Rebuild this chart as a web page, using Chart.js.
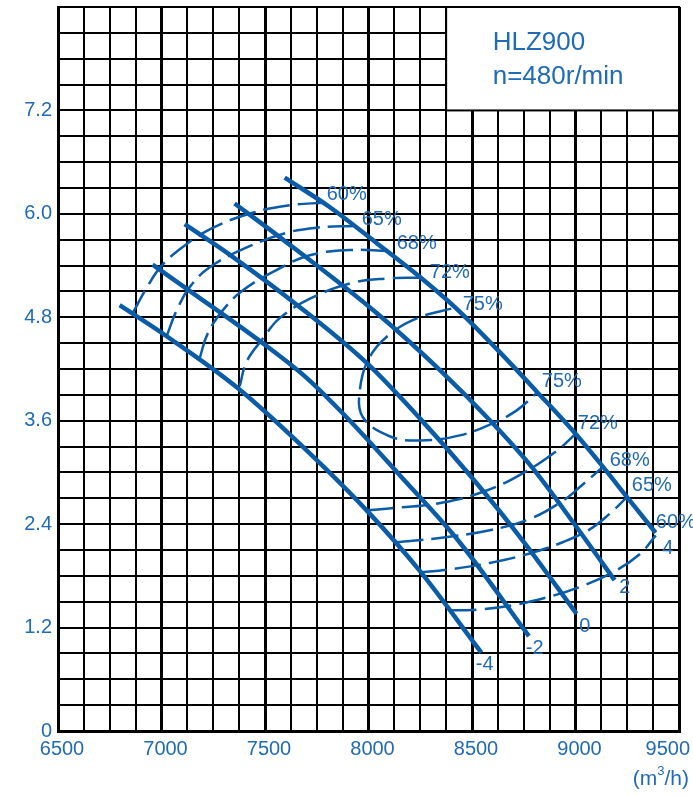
<!DOCTYPE html>
<html><head><meta charset="utf-8">
<script src="https://cdn.jsdelivr.net/npm/chart.js@4.4.1/dist/chart.umd.min.js"></script>
<style>html,body{margin:0;padding:0;background:#fff}#wrap{width:693px;height:797px}</style>
</head><body><div id="wrap"><canvas id="c" width="693" height="797"></canvas></div>
<script>
// ---- axis tick labels ----
const xTickLabels = ['6500','7000','7500','8000','8500','9000','9500'];
const yTickLabels = ['0','1.2','2.4','3.6','4.8','6.0','7.2'];
const unitLabel = ['(m', '3', '/h)'];
const titleLines = ['HLZ900', 'n=480r/min'];

// ---- blade angle curves (Q m3/h, H) ----
const bladeAngles = ['4','2','0','-2','-4'];
const blade4  = [[7595,6.42],[7812,6.08],[8040,5.66],[8247,5.27],[8416,4.92],[8620,4.43],[8812,3.94],[8996,3.46],[9131,3.07],[9247,2.72],[9387,2.30]];
const blade2  = [[7353,6.12],[7571,5.73],[8039,4.85],[8344,4.19],[8600,3.57],[8793,3.05],[9010,2.35],[9189,1.75]];
const blade0  = [[7112,5.88],[7339,5.51],[7667,4.92],[7991,4.27],[8247,3.63],[8489,2.97],[8745,2.21],[9005,1.36]];
const bladeM2 = [[6957,5.41],[7146,5.09],[7489,4.50],[7690,4.12],[7894,3.64],[8150,2.97],[8440,2.19],[8775,1.10]];
const bladeM4 = [[6798,4.94],[7025,4.58],[7368,3.98],[7682,3.30],[7991,2.56],[8247,1.86],[8545,0.91]];

// ---- efficiency contours ----
const effLevels = ['60%','65%','68%','72%','75%'];
const eff60Upper = [[7788,6.13],[7619,6.10],[7436,6.01],[7233,5.82],[7073,5.56],[6991,5.37],[6933,5.16],[6861,4.85]];
const eff60Lower = [[8392,1.40],[8537,1.41],[8697,1.46],[8861,1.55],[9020,1.67],[9180,1.84],[9310,2.05],[9388,2.27]];
const eff65Upper = [[7933,5.86],[7750,5.84],[7605,5.78],[7412,5.61],[7233,5.38],[7136,5.15],[7073,4.88],[7025,4.58]];
const eff65Lower = [[8247,1.84],[8378,1.87],[8586,1.95],[8779,2.06],[8938,2.19],[9069,2.34],[9165,2.52],[9247,2.71]];
const eff68Upper = [[8093,5.57],[7909,5.58],[7716,5.52],[7557,5.35],[7392,5.11],[7296,4.88],[7223,4.61],[7185,4.33]];
const eff68Lower = [[8136,2.19],[8344,2.24],[8586,2.33],[8779,2.46],[8938,2.67],[9035,2.86],[9131,3.06]];
const eff72Upper = [[8247,5.26],[8088,5.25],[7924,5.20],[7730,5.03],[7571,4.79],[7489,4.55],[7412,4.29],[7378,4.00]];
const eff72Lower = [[7991,2.56],[8136,2.59],[8359,2.65],[8571,2.79],[8745,2.99],[8909,3.25],[9006,3.46]];
const eff75Loop  = [[8400,4.90],[8247,4.80],[8117,4.63],[8006,4.34],[7958,3.95],[7973,3.64],[8102,3.42],[8247,3.37],[8441,3.43],[8600,3.57],[8716,3.72],[8812,3.92]];

// ---- label anchors (data units) ----
const effLabelTexts = ['60%','65%','68%','72%','75%','75%','72%','68%','65%','60%'];
const effLabelX = [7798,7967,8136,8296,8455,8837,9011,9165,9272,9388];
const effLabelY = [6.23,5.94,5.66,5.32,4.95,4.05,3.57,3.14,2.85,2.42];
const bladeLabelX = [9446,9238,9045,8803,8561];
const bladeLabelY = [2.12,1.66,1.21,0.96,0.77];
const boxX = [8375, 9500];
const boxY = [7.2, 8.4];
const titleX = 8600;
const titleY = [7.98, 7.59];

const LINE = '#0a5ca9';
const TEXT = '#1f6bb5';
const FONT = "'Liberation Sans', Arial, Helvetica, sans-serif";
Chart.defaults.font.family = FONT;

const xGrid = Array.from({length:25}, (_, i) => 6500 + 125 * i);
const yGrid = Array.from({length:29}, (_, i) => Math.round(i * 3) / 10);

const pts = a => a.map(p => ({x:p[0], y:p[1]}));
const solid = (d) => ({data:pts(d), showLine:true, borderColor:LINE, borderWidth:4.5, pointRadius:0, cubicInterpolationMode:'monotone', borderCapStyle:'butt', fill:false});
const dashed = (d) => ({data:pts(d), showLine:true, borderColor:LINE, borderWidth:2.5, borderDash:[27,8], pointRadius:0, tension:0.4, fill:false});

const datasets = [
  solid(blade4), solid(blade2), solid(blade0), solid(bladeM2), solid(bladeM4),
  dashed(eff60Upper), dashed(eff60Lower), dashed(eff65Upper), dashed(eff65Lower),
  dashed(eff68Upper), dashed(eff68Lower), dashed(eff72Upper), dashed(eff72Lower), dashed(eff75Loop)
];

const overlay = {
  id: 'overlay',
  beforeDatasetsDraw(chart) {
    const {ctx, scales:{x, y}} = chart;
    const l = x.getPixelForValue(boxX[0]), r = x.getPixelForValue(boxX[1]);
    const t = y.getPixelForValue(boxY[1]), b = y.getPixelForValue(boxY[0]);
    ctx.save();
    ctx.fillStyle = '#fff';
    ctx.fillRect(l, t, r - l, b - t);
    ctx.strokeStyle = '#000';
    ctx.lineWidth = 2;
    ctx.strokeRect(l, t, r - l, b - t);
    ctx.fillStyle = TEXT;
    ctx.font = '26px ' + FONT;
    ctx.textAlign = 'left';
    ctx.textBaseline = 'middle';
    titleLines.forEach((s, i) => ctx.fillText(s, x.getPixelForValue(titleX), y.getPixelForValue(titleY[i])));
    ctx.restore();
  },
  afterDraw(chart) {
    const {ctx, scales:{x, y}} = chart;
    ctx.save();
    ctx.fillStyle = TEXT;
    ctx.textBaseline = 'middle';
    ctx.font = '20px ' + FONT;
    ctx.textAlign = 'left';
    effLabelTexts.forEach((s, i) => ctx.fillText(s, x.getPixelForValue(effLabelX[i]), y.getPixelForValue(effLabelY[i])));
    ctx.textAlign = 'center';
    bladeAngles.forEach((s, i) => ctx.fillText(s, x.getPixelForValue(bladeLabelX[i]), y.getPixelForValue(bladeLabelY[i])));
    const yLab = chart.chartArea.bottom + 18;
    xTickLabels.forEach(s => {
      const w = ctx.measureText(s).width;
      let px = x.getPixelForValue(Number(s)) + 4;
      if (px + w / 2 > 690) px = 690 - w / 2;
      ctx.fillText(s, px, yLab);
    });
    ctx.textAlign = 'left';
    ctx.font = '21px ' + FONT;
    const w1 = ctx.measureText(unitLabel[0]).width, w3 = ctx.measureText(unitLabel[2]).width;
    ctx.font = '13px ' + FONT;
    const w2 = ctx.measureText(unitLabel[1]).width;
    const x0 = 689 - (w1 + w2 + w3);
    const yU = chart.chartArea.bottom + 48;
    ctx.font = '21px ' + FONT;
    ctx.fillText(unitLabel[0], x0, yU);
    ctx.font = '13px ' + FONT;
    ctx.fillText(unitLabel[1], x0 + w1, yU - 8);
    ctx.font = '21px ' + FONT;
    ctx.fillText(unitLabel[2], x0 + w1 + w2, yU);
    ctx.restore();
  }
};

new Chart(document.getElementById('c'), {
  type: 'scatter',
  data: {datasets},
  options: {
    responsive: false,
    animation: false,
    layout: {padding: {left: 0, top: 7, right: 14, bottom: 0}},
    plugins: {legend: {display: false}, tooltip: {enabled: false}},
    scales: {
      x: {
        type: 'linear', min: 6500, max: 9500,
        afterBuildTicks(s) { s.ticks = xGrid.map(v => ({value: v})); },
        afterFit(s) { s.height = 66; s.paddingLeft = 0; s.paddingRight = 0; },
        ticks: {display: false, autoSkip: false},
        grid: {color: '#000', lineWidth: c => (c.tick && c.tick.value % 500 === 0) ? 3 : 2, drawTicks: false},
        border: {display: true, color: '#000', width: 3}
      },
      y: {
        type: 'linear', min: 0, max: 8.4,
        afterBuildTicks(s) { s.ticks = yGrid.map(v => ({value: v})); },
        afterFit(s) { s.width = 58; s.paddingTop = 0; s.paddingBottom = 0; },
        ticks: {
          autoSkip: false, padding: 6, color: TEXT, font: {size: 20, family: FONT},
          callback: v => { const k = v / 1.2, r = Math.round(k); return (Math.abs(k - r) < 1e-6 && yTickLabels[r] !== undefined) ? yTickLabels[r] : ''; }
        },
        grid: {color: '#000', lineWidth: 2, drawTicks: false},
        border: {display: true, color: '#000', width: 3}
      }
    }
  },
  plugins: [overlay]
});
</script>
</body></html>
